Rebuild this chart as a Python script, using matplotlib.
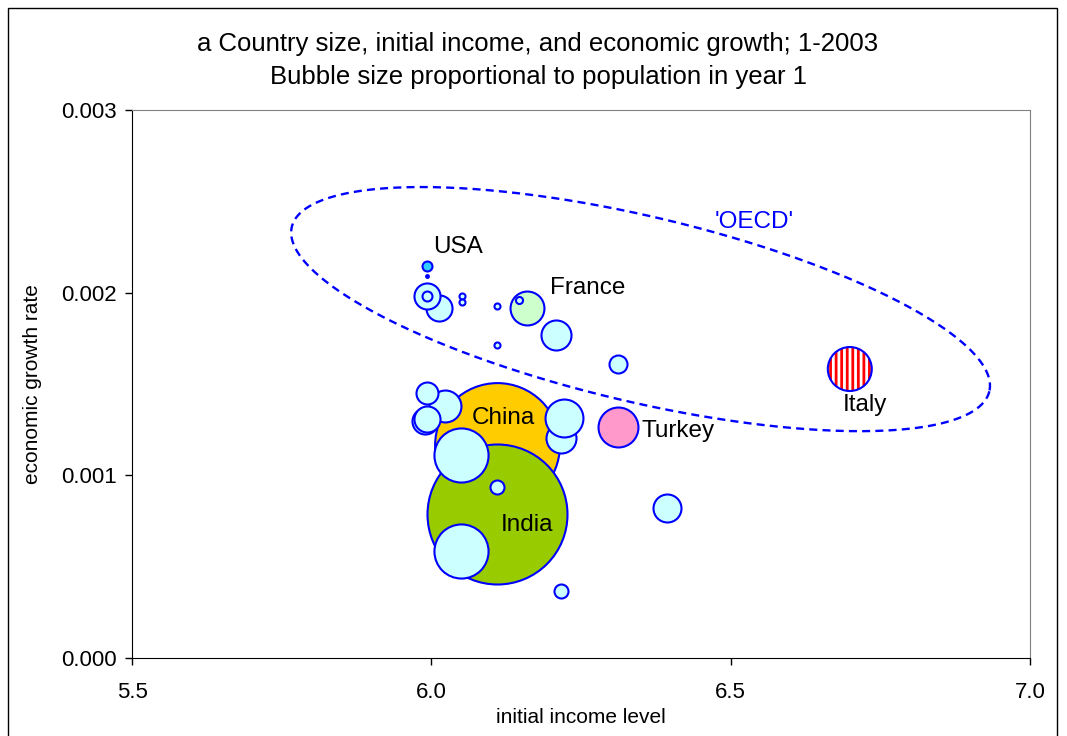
import numpy as np
import matplotlib
matplotlib.use("Agg")
import matplotlib.pyplot as plt
from matplotlib.patches import Rectangle
from matplotlib.ticker import FormatStrFormatter

plt.rcParams['font.family'] = ['Liberation Sans', 'DejaVu Sans']
plt.rcParams['hatch.linewidth'] = 2.0

# ---- data ----
# initial income level (x), growth rate (y), population in year 1 (millions)
names = ["China", "India", "c1", "c2", "c3", "c4", "c5", "c6", "c7", "c8", "c9", "c10",
         "c11", "Turkey", "Italy", "c12", "c13", "France", "c14", "c15", "c16", "c17",
         "c18", "c19", "c20", "c21", "USA", "c22"]
income = [6.110, 6.110, 6.050, 6.050, 6.110, 6.216, 6.216, 6.222, 6.022, 5.992, 5.990,
          5.992, 6.394, 6.311, 6.699, 6.311, 6.209, 6.160, 6.147, 6.110, 6.110, 6.052,
          6.052, 6.012, 5.992, 5.992, 5.992, 5.992]
growth = [0.001166, 0.000788, 0.001111, 0.000586, 0.000936, 0.000367, 0.001204, 0.001314,
          0.001379, 0.001450, 0.001300, 0.001308, 0.000821, 0.001264, 0.001582, 0.001609,
          0.001768, 0.001916, 0.001960, 0.001927, 0.001713, 0.001981, 0.001949, 0.001916,
          0.001981, 0.001981, 0.002146, 0.002090]
population = [59.6, 75.0, 11.2, 11.2, 0.75, 0.75, 3.45, 5.5, 3.9, 1.85, 2.6, 2.6,
              3.0, 6.1, 7.4, 1.24, 3.45, 4.4, 0.19, 0.14, 0.14, 0.14, 0.14, 2.6,
              2.6, 0.38, 0.38, 0.03]
colors = ["#FFCC00", "#99CC00"] + ["#CCFFFF"] * 11 + ["#FF99CC", "white", "#CCFFFF",
          "#CCFFFF", "#CCFFCC", "#CCFFFF", "#CCFFFF", "#CCFFFF", "#CCFFFF", "#CCFFFF",
          "#CCFFFF", "#CCFFFF", "#CCFFFF", "#33CCFF", "#0000FF"]

labels = ["USA", "France", "China", "India", "Turkey", "Italy"]
label_x = [6.003, 6.199, 6.120, 6.159, 6.351, 6.724]
label_y = [0.00225, 0.002025, 0.001314, 0.000728, 0.001242, 0.001385]
label_ha = ["left", "left", "center", "center", "left", "center"]

x_ticks = [5.5, 6.0, 6.5, 7.0]
y_ticks = [0.000, 0.001, 0.002, 0.003]

# OECD ellipse (center and semi-axis vectors in data units)
ell_center = (6.3495, 0.001910)
ell_u = (0.5826, -0.000450)
ell_v = (-0.0356, -0.000494)

# ---- figure ----
W, H = 1067, 736
fig = plt.figure(figsize=(W / 100, H / 100), dpi=100)
fig.patch.set_facecolor("white")
fig.patches.append(Rectangle((8 / W, -0.05), (1057 - 8) / W, 1 - 8 / H + 0.05,
                             transform=fig.transFigure, fill=False,
                             edgecolor="black", linewidth=1.0))

ax = fig.add_axes([132 / W, (H - 658) / H, (1030 - 132) / W, (658 - 110) / H])
ax.set_xlim(5.5, 7.0)
ax.set_ylim(0, 0.003)

# size: area proportional to population; India (75M) -> radius 70 px
def sizes(pops):
    r_px = 70 * np.sqrt(np.array(pops) / 75.0)
    return (2 * r_px * 0.72) ** 2

s = sizes(population)
for i in range(len(income)):
    if names[i] == "Italy":
        ax.scatter([income[i]], [growth[i]], s=[s[i]], facecolor="white",
                   edgecolor="#FF0000", hatch="|||", linewidth=0, zorder=3)
        ax.scatter([income[i]], [growth[i]], s=[s[i]], facecolor="none",
                   edgecolor="#0000FF", linewidth=1.5, zorder=3)
    else:
        ax.scatter([income[i]], [growth[i]], s=[s[i]], facecolor=colors[i],
                   edgecolor="#0000FF", linewidth=1.5, zorder=3)

for t, lx, ly, ha in zip(labels, label_x, label_y, label_ha):
    ax.text(lx, ly, t, ha=ha, va="center", fontsize=17.5, color="black", zorder=5)

t = np.linspace(0, 2 * np.pi, 400)
ex = ell_center[0] + np.cos(t) * ell_u[0] + np.sin(t) * ell_v[0]
ey = ell_center[1] + np.cos(t) * ell_u[1] + np.sin(t) * ell_v[1]
ax.plot(ex, ey, color="#0000FF", linestyle=(0, (3.4, 2.2)), linewidth=1.7, zorder=4,
        clip_on=False)
ax.text(6.540, 0.002386, "'OECD'", color="#0000FF", fontsize=17.5, ha="center",
        va="center", zorder=5)

ax.set_xticks(x_ticks)
ax.set_yticks(y_ticks)
ax.xaxis.set_major_formatter(FormatStrFormatter("%.1f"))
ax.yaxis.set_major_formatter(FormatStrFormatter("%.3f"))
ax.tick_params(axis="both", direction="out", length=5, width=1, labelsize=16,
               color="black")
ax.tick_params(axis="x", pad=12)
ax.tick_params(axis="y", pad=6)
for sp in ["top", "right"]:
    ax.spines[sp].set_color("#808080")
for sp in ["left", "bottom"]:
    ax.spines[sp].set_color("black")

ax.set_xlabel("initial income level", fontsize=15, labelpad=4)
ax.set_ylabel("economic growth rate", fontsize=15, labelpad=14)

fig.text(538 / W, 1 - 44 / H, "a Country size, initial income, and economic growth; 1-2003",
         ha="center", va="center", fontsize=18.5)
fig.text(538 / W, 1 - 77 / H, "Bubble size proportional to population in year 1",
         ha="center", va="center", fontsize=18.5)

fig.savefig("out.png", dpi=100)
